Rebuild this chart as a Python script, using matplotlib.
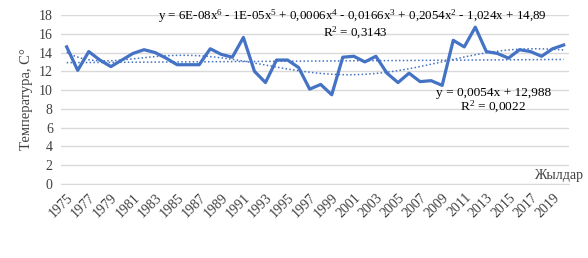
import numpy as np
import matplotlib
matplotlib.use("Agg")
import matplotlib.pyplot as plt

plt.rcParams['font.family'] = ['Liberation Serif', 'DejaVu Serif']
plt.rcParams['mathtext.fontset'] = 'custom'
plt.rcParams['mathtext.rm'] = 'Liberation Serif'
plt.rcParams['mathtext.it'] = 'Liberation Serif'

# mean annual temperature, 1975-2020
years = list(range(1975, 2021))
temps = [14.6, 12.1, 14.1, 13.2, 12.5, 13.2, 13.9, 14.3, 14.0, 13.4,
         12.7, 12.7, 12.7, 14.4, 13.8, 13.5, 15.6, 12.0, 10.8, 13.2,
         13.2, 12.4, 10.1, 10.6, 9.5, 13.5, 13.6, 13.0, 13.6, 11.8,
         10.8, 11.8, 10.9, 11.0, 10.5, 15.3, 14.6, 16.7, 14.1, 13.9,
         13.4, 14.3, 14.1, 13.6, 14.4, 14.8]
tick_labels = [str(y) for y in years[::2]]

poly_eq = (r"y = 6E-08x$^{6}$ - 1E-05x$^{5}$ + 0,0006x$^{4}$ - 0,0166x$^{3}$"
           r" + 0,2054x$^{2}$ - 1,024x + 14,89")
poly_r2 = r"R$^{2}$ = 0,3143"
lin_eq = "y = 0,0054x + 12,988"
lin_r2 = r"R$^{2}$ = 0,0022"

color = '#4472C4'
txt = '#404040'
fig = plt.figure(figsize=(5.88, 2.58), dpi=100)
ax = fig.add_axes([0.104, 0.287, 0.864, 0.655])

xi = np.arange(len(years))
ax.plot(xi, temps, color=color, lw=2.3, zorder=3)

# trendlines (Excel style: x = 1..n)
xn = xi + 1
p6 = np.polyfit(xn, temps, 6)
xs = np.linspace(1, len(years), 300)
ax.plot(xs - 1, np.polyval(p6, xs), color=color, lw=1.1, ls=(0, (1, 1.5)), zorder=2)
p1 = np.polyfit(xn, temps, 1)
ax.plot(xs - 1, np.polyval(p1, xs), color=color, lw=1.1, ls=(0, (1, 1.5)), zorder=2)

ax.set_xlim(-0.5, len(years) - 0.5)
ax.set_ylim(0, 18)
ax.set_yticks(range(0, 19, 2))
ax.grid(axis='y', color='#d9d9d9', lw=1)
ax.set_axisbelow(True)
for s in ['top', 'right', 'left']:
    ax.spines[s].set_visible(False)
ax.spines['bottom'].set_color('#d9d9d9')
ax.tick_params(axis='y', length=0, labelsize=10, colors=txt, pad=6)
ax.tick_params(axis='x', length=0, labelsize=10, colors=txt, pad=5)
ax.set_xticks(xi[::2])
ax.set_xticklabels(tick_labels, rotation=45, ha='right', rotation_mode='anchor')
ax.set_ylabel('Температура, С°', fontsize=10.5, color=txt, labelpad=4)

ax.text(0.574, 0.99, poly_eq, transform=ax.transAxes, ha='center', va='center', fontsize=9.4)
ax.text(0.579, 0.895, poly_r2, transform=ax.transAxes, ha='center', va='center', fontsize=9.4)
ax.text(0.851, 0.538, lin_eq, transform=ax.transAxes, ha='center', va='center', fontsize=9.6)
ax.text(0.850, 0.455, lin_r2, transform=ax.transAxes, ha='center', va='center', fontsize=9.6)
ax.text(1.028, 0.05, 'Жылдар', transform=ax.transAxes, ha='right', va='center',
        fontsize=10, color=txt)

fig.savefig('out.png', dpi=100)
